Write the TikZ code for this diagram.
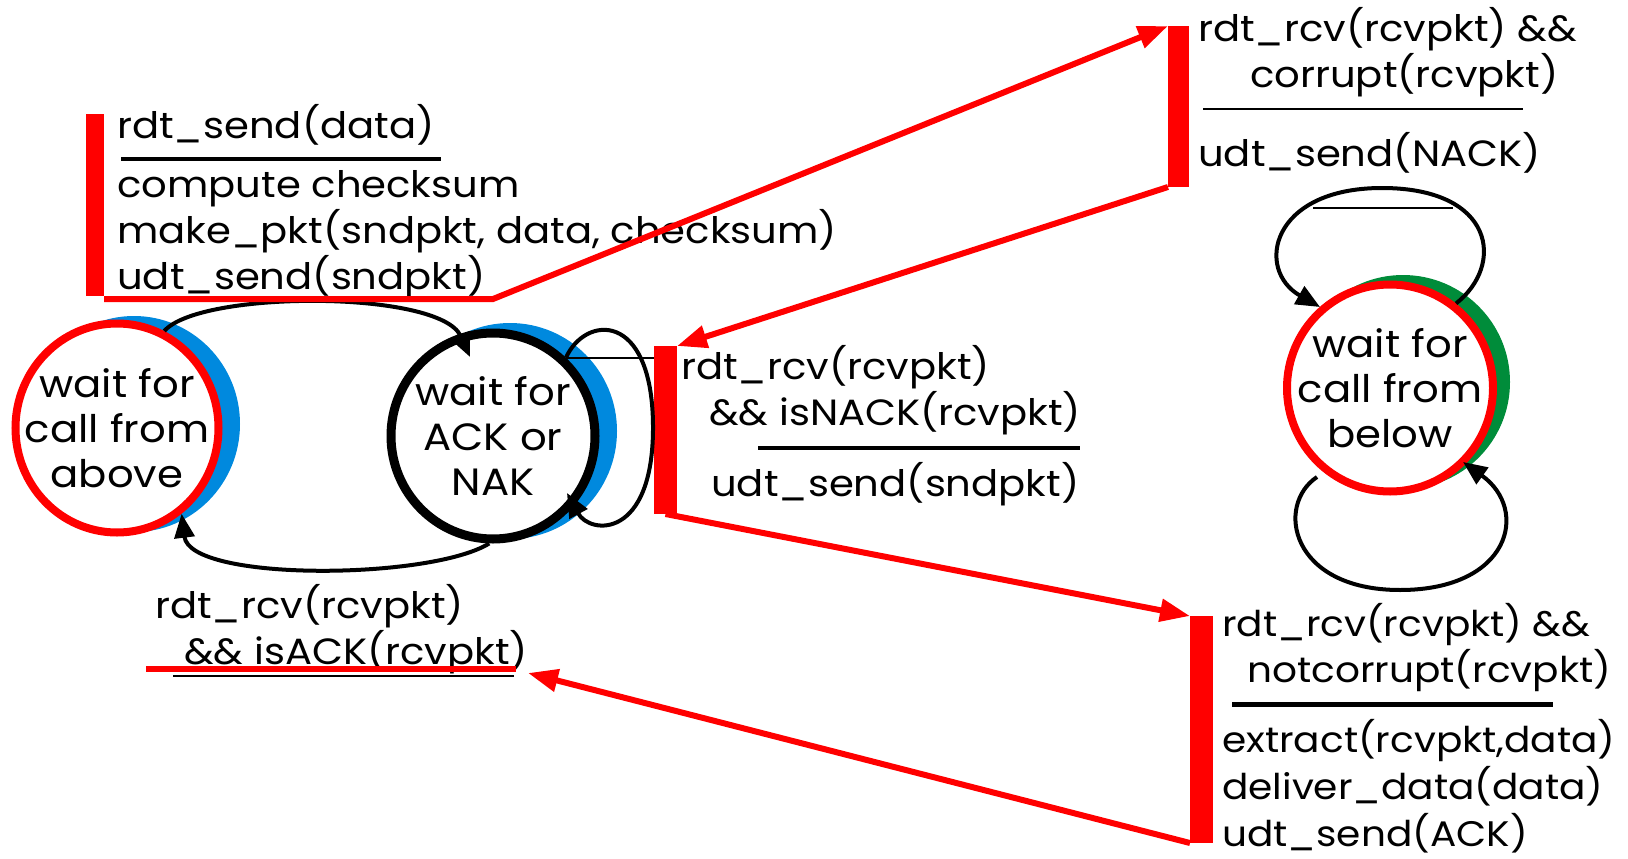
\documentclass[tikz,border=0pt]{standalone}
\usepackage{fontspec}
\newfontfamily\gothic[FakeStretch=1.1]{Poppins}
\usetikzlibrary{arrows.meta,shapes.geometric}
\definecolor{shadowblue}{RGB}{0,137,222}
\definecolor{shadowgreen}{RGB}{0,140,58}
\tikzset{
    >=Stealth,
    state/.style={ellipse,draw=#1,fill=white,line width=8pt,inner sep=0pt},
    statetext/.style={align=center,inner sep=0pt,font=\gothic\fontsize{38}{45}\selectfont},
    guard/.style={anchor=base west,align=left,inner sep=0pt,font=\gothic\fontsize{36.5}{46}\selectfont},
    redbar/.style={fill=red,inner sep=0pt,outer sep=0pt,anchor=north west,minimum width=20pt,minimum height=#1},
    trans/.style={-{Triangle[length=24pt,width=20pt]},line width=4pt},
    link/.style={-{Triangle[length=30pt,width=22pt]},red,line width=6pt}
}

\begin{document}
\begin{tikzpicture}[x=1pt,y=-1pt]
  \fill[white] (0,0) rectangle (1628,859);
  \useasboundingbox (0,0) rectangle (1628,859);

  % states with their coloured shadows
  \fill[shadowblue] (134,424) ellipse [x radius=106,y radius=108];
  \node[state=red,minimum width=203pt,minimum height=209pt] (above) at (117,428) {};
  \node[statetext] (abovetxt) at (above) {wait for\\call from\\above};

  \fill[shadowblue] (510,431) ellipse [x radius=107,y radius=108];
  \node[state=black,line width=9pt,minimum width=204pt,minimum height=206pt] (acknak) at (493,436) {};
  \node[statetext] (acknaktxt) at (acknak) {wait for\\ACK or\\NAK};

  \fill[shadowgreen] (1403,382) ellipse [x radius=107,y radius=107];
  \node[state=red,minimum width=206pt,minimum height=207pt] (below) at (1390,388) {};
  \node[statetext] (belowtxt) at (below) {wait for\\call from\\below};

  \node[redbar=182pt,minimum width=18pt] (sendbar) at (86,114) {};
  \node[redbar=161pt,minimum width=21pt] (corruptbar) at (1168,26) {};
  \node[redbar=168pt,minimum width=23pt] (nackbar) at (654,346) {};
  \node[redbar=227pt,minimum width=23pt] (deliverbar) at (1190,616) {};

  \draw[trans] (above.64) .. controls (200,290) and (440,290) .. ([shift={(-23,-79)}]acknak.center);
  \draw[trans] (acknak.268) .. controls (430,580) and (190,582) .. (above.-53);
  \draw[trans] (acknak.47) .. controls (585,315) and (652,310) .. (653,425)
    .. controls (654,540) and (590,535) .. ([shift={(74,57)}]acknak.center);
  \draw[line width=2pt] (acknak.47) -- (acknak.47 -| nackbar.north west);
  \draw[trans] (below.52) .. controls (1505,265) and (1495,188) .. (1382,188)
    .. controls (1270,188) and (1255,270) .. ([shift={(-70,-81)}]below.center);
  \draw[line width=2.5pt] (1313,208) -- (1453,208);
  \draw[trans] ([shift={(-73,89)}]below.center) .. controls (1275,505) and (1290,590) .. (1400,590)
    .. controls (1510,590) and (1530,510) .. ([shift={(73,74)}]below.center);

  % guards and actions (a node with several lines sits on its last baseline)
  \node[guard] (sendev) at (117,138) {rdt\_send(data)};
  \draw[line width=4pt] (121,159) -- (441,159);
  \node[guard] (sendact) at (117,289) {compute checksum\\make\_pkt(sndpkt, data, checksum)\\udt\_send(sndpkt)};

  \node[guard] (corruptev) at (1198,88) {rdt\_rcv(rcvpkt) \&\&\\\hspace*{52pt}corrupt(rcvpkt)};
  \draw[line width=1.5pt] (1203,109) -- (1523,109);
  \node[guard] (corruptact) at (1198,166) {udt\_send(NACK)};

  \node[guard] (nackev) at (681,425) {rdt\_rcv(rcvpkt)\\\hspace*{28pt}\&\& isNACK(rcvpkt)};
  \draw[line width=4pt] (758,448) -- (1080,448);
  \node[guard] (nackact) at (711,496) {udt\_send(sndpkt)};

  \node[guard,font=\gothic\fontsize{35.5}{46}\selectfont] (deliverev) at (1222,682) {rdt\_rcv(rcvpkt) \&\&\\\hspace*{25pt}notcorrupt(rcvpkt)};
  \draw[line width=5pt] (1232,704) -- (1553,704);
  \node[guard,font=\gothic\fontsize{35.5}{47}\selectfont] (deliveract) at (1222,846) {extract(rcvpkt,data)\\deliver\_data(data)\\udt\_send(ACK)};

  \node[guard] (ackev) at (155,664) {rdt\_rcv(rcvpkt)\\\hspace*{29pt}\&\& isACK(rcvpkt)};
  \draw[line width=2pt] (173,676) -- (514,676);
  \draw[red,line width=6pt] (146,669) -- (516,669);

  % red links between the transition labels
  \coordinate (sendend) at (493,299);
  \draw[link] (sendbar.south east |- sendend) -- (sendend) -- (corruptbar.north west);
  \draw[link] (corruptbar.south west) -- (nackbar.north east);
  \draw[link] (nackbar.south) -- (deliverbar.north west);
  \coordinate (ackend) at (528,673);
  \draw[link] (deliverbar.south west) -- (ackend);
\end{tikzpicture}
\end{document}
